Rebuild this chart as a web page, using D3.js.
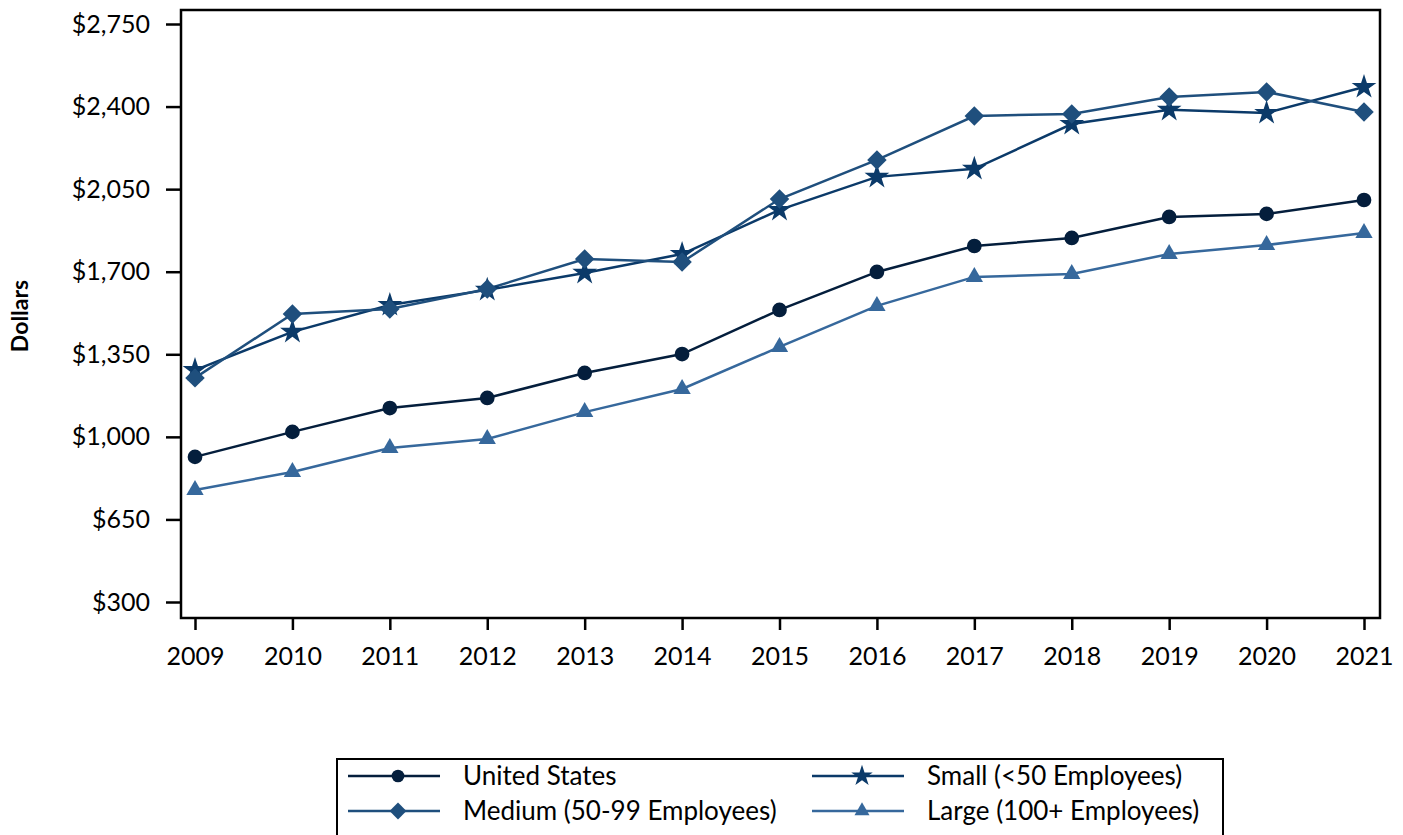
<!DOCTYPE html>
<html lang="en">
<head>
<meta charset="utf-8">
<script src="https://cdn.jsdelivr.net/npm/d3@7"></script>
<style>
    body { margin: 0; background: #fff; }
    text { font-family: Lato, "Open Sans", sans-serif; fill: #000; }
</style>
</head>
<body>
<div id="chart"></div>
<script>
    // data
    const years = [2009, 2010, 2011, 2012, 2013, 2014, 2015, 2016, 2017, 2018, 2019, 2020, 2021];
    const yTicks = [300, 650, 1000, 1350, 1700, 2050, 2400, 2750];
    const unitedStates = [915, 1021, 1122, 1165, 1271, 1351, 1538, 1699, 1809, 1843, 1932, 1945, 2004];
    const small = [1283, 1445, 1559, 1623, 1695, 1775, 1962, 2102, 2136, 2326, 2386, 2373, 2483];
    const medium = [1250, 1521, 1542, 1627, 1754, 1741, 2008, 2174, 2360, 2369, 2441, 2462, 2377];
    const large = [775, 851, 953, 991, 1105, 1203, 1381, 1555, 1678, 1690, 1775, 1813, 1864];

    const series = [
        { name: "United States", values: unitedStates, color: "#041e3c", symbol: d3.symbolCircle, size: 170, rot: 0 },
        { name: "Small (<50 Employees)", values: small, color: "#0b3a69", symbol: d3.symbolStar, size: 190, rot: 0 },
        { name: "Medium (50-99 Employees)", values: medium, color: "#1f4f7d", symbol: d3.symbolSquare, size: 190, rot: 45 },
        { name: "Large (100+ Employees)", values: large, color: "#36689c", symbol: d3.symbolTriangle, size: 130, rot: 0 }
    ];

    const width = 1403, height = 835;
    const frame = { left: 181, right: 1380, top: 10, bottom: 618 };

    const svg = d3.select("#chart").append("svg")
        .attr("width", width)
        .attr("height", height);

    const x = d3.scaleLinear().domain([2009, 2021]).range([195, 1364]);
    const y = d3.scaleLinear().domain([300, 2750]).range([602, 24]);

    // frame
    svg.append("rect")
        .attr("x", frame.left).attr("y", frame.top)
        .attr("width", frame.right - frame.left)
        .attr("height", frame.bottom - frame.top)
        .attr("fill", "none").attr("stroke", "#000").attr("stroke-width", 2.5);

    // y axis
    const yAxis = svg.append("g")
        .attr("transform", `translate(${frame.left},0)`)
        .call(d3.axisLeft(y).tickValues(yTicks).tickSize(15).tickPadding(16)
            .tickFormat(d => "$" + d3.format(",")(d)));
    yAxis.select(".domain").remove();
    yAxis.selectAll(".tick line").attr("stroke", "#000").attr("stroke-width", 2.5);
    yAxis.selectAll(".tick text").style("font-size", "25px");

    // x axis
    const xAxis = svg.append("g")
        .attr("transform", `translate(0,${frame.bottom})`)
        .call(d3.axisBottom(x).tickValues(years).tickSize(12).tickPadding(17)
            .tickFormat(d3.format("d")));
    xAxis.select(".domain").remove();
    xAxis.selectAll(".tick line").attr("stroke", "#000").attr("stroke-width", 2.5);
    xAxis.selectAll(".tick text").style("font-size", "25px");

    svg.append("text")
        .attr("transform", "translate(28,316) rotate(-90)")
        .attr("text-anchor", "middle")
        .style("font-size", "23px")
        .style("font-weight", "bold")
        .text("Dollars");

    const line = d3.line()
        .x((d, i) => x(years[i]))
        .y(d => y(d));

    series.forEach(s => {
        svg.append("path")
            .datum(s.values)
            .attr("fill", "none")
            .attr("stroke", s.color)
            .attr("stroke-width", 2.5)
            .attr("d", line);
    });

    series.forEach(s => {
        svg.append("g").selectAll("path")
            .data(s.values)
            .enter().append("path")
            .attr("d", d3.symbol().type(s.symbol).size(s.size))
            .attr("transform", (d, i) => `translate(${x(years[i])},${y(d)}) rotate(${s.rot})`)
            .attr("fill", s.color);
    });

    // legend
    const legend = svg.append("g");
    legend.append("rect")
        .attr("x", 337).attr("y", 759)
        .attr("width", 886).attr("height", 90)
        .attr("fill", "none").attr("stroke", "#000").attr("stroke-width", 2);

    const legendPos = [
        { x: 348, y: 776 }, { x: 812, y: 776 },
        { x: 348, y: 811 }, { x: 812, y: 811 }
    ];
    series.forEach((s, i) => {
        const p = legendPos[i];
        const g = legend.append("g").attr("transform", `translate(${p.x},${p.y})`);
        g.append("line")
            .attr("x1", 0).attr("x2", 92)
            .attr("stroke", s.color).attr("stroke-width", 2.5);
        g.append("path")
            .attr("d", d3.symbol().type(s.symbol).size(s.size * 0.75))
            .attr("transform", `translate(50,0) rotate(${s.rot})`)
            .attr("fill", s.color);
        g.append("text")
            .attr("x", 115).attr("dy", "0.35em")
            .style("font-size", "26px")
            .text(s.name);
    });
</script>
</body>
</html>
